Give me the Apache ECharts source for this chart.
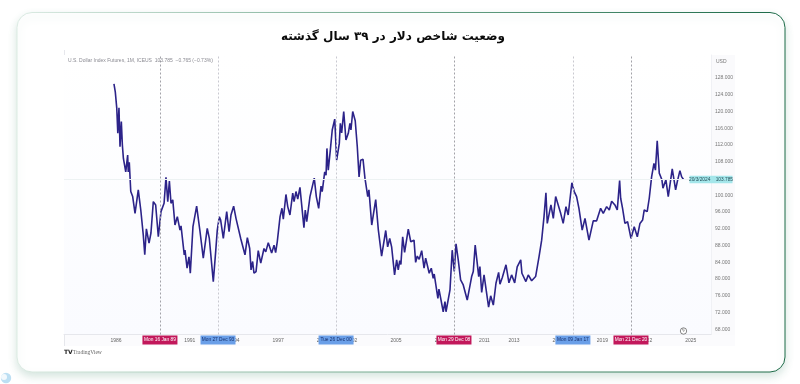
<!DOCTYPE html>
<html>
<head>
<meta charset="utf-8">
<title>DXY</title>
<style>
  html, body { margin: 0; padding: 0; background: #fff; }
  #main { width: 800px; height: 384px; }
</style>
<script src="https://cdn.jsdelivr.net/npm/echarts@6/dist/echarts.min.js"></script>
</head>
<body>
<div id="main"></div>
<script>
const titleText = 'وضعیت شاخص دلار در ۳۹ سال گذشته';
const legendText = 'U.S. Dollar Index Futures, 1M, ICEUS  103.785  −0.765 (−0.73%)';

// decimal year of each traced point
const years = [
  1985.86, 1985.95, 1986.05, 1986.12, 1986.20, 1986.27, 1986.36, 1986.43, 1986.50, 1986.66, 1986.79, 1986.83, 1986.90,
  1987.00, 1987.13, 1987.29, 1987.51, 1987.68, 1987.74, 1987.85, 1987.95, 1988.06, 1988.24, 1988.37, 1988.53, 1988.69, 1988.87,
  1989.05, 1989.26, 1989.39, 1989.51, 1989.62, 1989.73, 1989.85, 1990.00, 1990.16, 1990.34, 1990.41, 1990.63, 1990.68, 1990.82, 1990.95,
  1991.04, 1991.22, 1991.29, 1991.47, 1991.70, 1991.92, 1992.19, 1992.33, 1992.60, 1992.76, 1992.87, 1993.01, 1993.10, 1993.28, 1993.51, 1993.67, 1993.80, 1993.98,
  1994.14, 1994.26, 1994.46, 1994.75, 1994.91, 1995.07, 1995.16, 1995.27, 1995.36, 1995.50, 1995.65, 1995.82, 1996.04, 1996.16, 1996.33, 1996.56, 1996.72, 1996.83, 1996.94,
  1997.13, 1997.26, 1997.35, 1997.53, 1997.65, 1997.80, 1997.99, 1998.08, 1998.21, 1998.33, 1998.48, 1998.57, 1998.75, 1998.84, 1998.94,
  1999.16, 1999.45, 1999.59, 1999.75, 1999.91, 1999.99, 2000.16, 2000.25, 2000.31, 2000.40, 2000.54, 2000.67, 2000.84, 2000.97,
  2001.15, 2001.22, 2001.31, 2001.45, 2001.60, 2001.76, 2001.87, 2001.94, 2002.06, 2002.23, 2002.37, 2002.49, 2002.60, 2002.76, 2002.89,
  2003.08, 2003.16, 2003.35, 2003.62, 2003.80, 2004.02, 2004.30, 2004.43, 2004.57, 2004.70, 2004.90, 2005.04, 2005.15, 2005.25, 2005.33, 2005.45, 2005.58, 2005.83,
  2006.00, 2006.22, 2006.33, 2006.44, 2006.57, 2006.74, 2006.90, 2007.01, 2007.25, 2007.39, 2007.52, 2007.59, 2007.84, 2007.91,
  2008.03, 2008.20, 2008.32, 2008.39, 2008.50, 2008.66, 2008.81, 2008.95, 2009.07, 2009.22, 2009.38, 2009.56, 2009.83,
  2010.13, 2010.24, 2010.37, 2010.61, 2010.69, 2010.81, 2010.97, 2011.28, 2011.42, 2011.60, 2011.78, 2011.96,
  2012.05, 2012.21, 2012.46, 2012.66, 2012.84, 2013.05, 2013.22, 2013.46, 2013.54, 2013.81, 2013.97,
  2014.20, 2014.47, 2014.70, 2014.88, 2015.04, 2015.17, 2015.26, 2015.39, 2015.51, 2015.67, 2015.83, 2015.96,
  2016.17, 2016.34, 2016.53, 2016.68, 2016.93, 2017.09, 2017.25, 2017.41, 2017.63, 2017.82,
  2018.09, 2018.20, 2018.38, 2018.61, 2018.88, 2019.06, 2019.29, 2019.47, 2019.63, 2019.85,
  2020.01, 2020.17, 2020.24, 2020.37, 2020.53, 2020.71, 2020.94, 2021.16, 2021.37, 2021.55, 2021.73, 2021.84,
  2022.04, 2022.18, 2022.34, 2022.50, 2022.60, 2022.72, 2022.86, 2023.04, 2023.11, 2023.31, 2023.47, 2023.74, 2023.97,
  2024.08, 2024.26, 2024.38, 2024.51
];
const dollarIndex = [
  126.6, 124.7, 120.8, 114.8, 120.9, 111.6, 117.6, 112.0, 108.8, 105.6, 109.6, 105.6, 107.9,
  100.9, 99.7, 95.7, 101.3, 96.5, 96.9, 90.5, 85.8, 92.0, 88.6, 91.0, 98.5, 97.7, 90.1,
  96.1, 98.1, 104.3, 98.5, 103.4, 98.1, 98.9, 92.9, 94.9, 91.7, 92.7, 85.8, 86.9, 82.6, 85.3,
  81.4, 92.5, 92.1, 97.4, 91.3, 85.0, 92.1, 89.7, 79.4, 86.5, 91.7, 94.9, 94.1, 89.7, 96.1, 91.3, 95.3, 97.4,
  94.5, 94.9, 89.7, 85.8, 89.9, 87.3, 82.2, 84.2, 81.4, 81.8, 86.8, 83.8, 87.3, 86.5, 88.7, 86.2, 88.1, 86.3, 88.9,
  94.9, 96.9, 94.3, 100.2, 97.3, 95.3, 100.5, 98.5, 100.9, 99.1, 101.9, 102.1, 92.3, 96.5, 93.7,
  99.7, 104.1, 99.7, 96.9, 102.2, 100.9, 105.6, 104.8, 111.2, 106.0, 110.8, 115.6, 118.2, 108.4,
  112.4, 117.2, 114.9, 120.0, 113.2, 114.8, 117.2, 115.6, 120.0, 117.8, 111.6, 104.4, 108.4, 108.6, 104.1,
  99.7, 101.3, 92.9, 99.0, 91.7, 85.5, 91.6, 87.7, 89.7, 87.7, 81.0, 84.6, 82.2, 84.4, 83.5, 90.1, 86.4, 91.9,
  88.9, 89.3, 84.0, 85.5, 84.7, 86.8, 82.6, 85.0, 81.4, 82.6, 80.2, 81.2, 75.4, 77.6,
  75.4, 72.2, 74.6, 72.2, 72.5, 77.4, 86.9, 81.8, 88.4, 84.6, 79.8, 78.6, 75.0,
  80.6, 81.8, 88.1, 80.6, 83.0, 76.8, 81.0, 73.3, 76.0, 73.8, 79.0, 81.6,
  78.8, 80.4, 83.4, 79.1, 81.0, 79.1, 82.9, 84.6, 81.4, 79.4, 81.0,
  79.6, 80.6, 85.3, 89.3, 94.9, 100.6, 93.3, 93.3, 97.7, 94.5, 99.7, 99.4,
  95.7, 93.3, 97.3, 95.3, 103.0, 100.9, 99.7, 96.9, 91.7, 94.5,
  89.3, 89.7, 93.9, 93.9, 96.9, 95.7, 97.3, 96.5, 98.6, 97.7,
  96.5, 103.5, 99.3, 96.9, 93.3, 93.7, 89.7, 92.5, 90.1, 93.3, 94.1, 96.5,
  96.1, 99.3, 104.4, 107.6, 106.0, 113.0, 105.3, 103.7, 101.7, 103.7, 99.7, 106.3, 101.3,
  103.2, 105.9, 104.4, 103.8
];

const xTickYears = [1986, 1991, 1994, 1997, 2000, 2002, 2005, 2008, 2011, 2013, 2016, 2019, 2022, 2025];
const yTicks = [68, 72, 76, 80, 84, 88, 92, 96, 100, 108, 112, 116, 120, 124, 128];

// dashed marker lines and the date tags under them
const markerYears = [1988.98, 1992.92, 2000.93, 2008.93, 2017.0, 2020.94];
const markerLabels = ['Mon 16 Jan 89', 'Mon 27 Dec 93', 'Tue 26 Dec 00', 'Mon 29 Dec 08', 'Mon 09 Jan 17', 'Mon 21 Dec 20'];
const markerKinds = ['pink', 'blue', 'blue', 'pink', 'blue', 'pink'];

const lastPrice = 103.785;
const lastDate = '20/3/2024';

const xMin = 1982.47, xMax = 2026.37;
const yMin = 66.77, yMax = 133.5;
const smallFont = 'Liberation Sans';

const chart = echarts.init(document.getElementById('main'));

const markerData = markerYears.map((yr, i) => {
  const pink = markerKinds[i] === 'pink';
  return {
    xAxis: yr,
    lineStyle: { color: pink ? '#a2a2a8' : '#c9c9d0', type: [2, 2], width: 1 },
    label: {
      show: true,
      position: 'start',
      distance: 1,
      formatter: markerLabels[i],
      color: pink ? '#fff' : '#16306e',
      backgroundColor: pink ? '#c2185b' : '#6a9fe8',
      fontFamily: smallFont,
      fontSize: 4.8,
      padding: [2, 3, 2, 3],
      width: 29,
      height: 5,
      lineHeight: 5,
      align: 'center',
    },
  };
});

const option = {
  animation: false,
  backgroundColor: '#fff',
  title: {
    text: titleText,
    left: 388,
    top: 26,
    textAlign: 'center',
    textStyle: { fontFamily: 'DejaVu Sans', fontSize: 12, fontWeight: 'bold', color: '#0b0b0b' },
  },
  grid: {
    left: 64,
    right: 89,
    top: 55,
    bottom: 49.5,
    show: true,
    borderWidth: 0,
    backgroundColor: {
      type: 'linear', x: 0, y: 0, x2: 0, y2: 1,
      colorStops: [{ offset: 0, color: '#ffffff' }, { offset: 1, color: '#fafbff' }],
    },
  },
  xAxis: {
    type: 'value',
    min: xMin,
    max: xMax,
    splitLine: { show: false },
    axisTick: { show: false },
    axisLine: { show: true, lineStyle: { color: '#e6e7ec', width: 1 } },
    axisLabel: {
      customValues: xTickYears,
      formatter: (v) => String(v),
      color: '#666',
      fontFamily: smallFont,
      fontSize: 5,
      margin: 3.5,
      hideOverlap: false,
    },
  },
  yAxis: {
    type: 'value',
    position: 'right',
    min: yMin,
    max: yMax,
    splitLine: { show: false },
    axisTick: { show: false },
    axisLine: { show: true, lineStyle: { color: '#f0f1f5', width: 1 } },
    axisLabel: {
      customValues: yTicks,
      formatter: (v) => v.toFixed(3),
      color: '#777',
      fontFamily: smallFont,
      fontSize: 5,
      margin: 4,
    },
  },
  series: [{
    type: 'line',
    data: years.map((yr, i) => [yr, dollarIndex[i]]),
    symbol: 'none',
    lineStyle: { color: '#2c2389', width: 1.6 },
    markLine: {
      silent: true,
      symbol: 'none',
      animation: false,
      data: markerData.concat([{
        yAxis: lastPrice,
        lineStyle: { color: '#edf2f3', type: 'solid', width: 1 },
        label: { show: false },
      }]),
    },
    markPoint: {
      silent: true,
      animation: false,
      symbol: 'rect',
      symbolSize: [43, 7.5],
      itemStyle: { color: '#a4e6ea' },
      data: [{
        coord: [xMax, lastPrice],
        label: {
          show: true,
          position: 'inside',
          formatter: lastDate + '    ' + lastPrice.toFixed(3),
          color: '#26505a',
          fontFamily: smallFont,
          fontSize: 4.8,
        },
      }],
    },
  }],
  graphic: [
    {
      type: 'rect', z: -20,
      shape: { x: 17, y: 12.5, width: 768, height: 359.5, r: 15 },
      style: {
        fill: '#fff',
        stroke: {
          type: 'linear', x: 0, y: 0, x2: 1, y2: 0,
          colorStops: [{ offset: 0, color: '#dcebe3' }, { offset: 0.5, color: '#6ea68a' }, { offset: 1, color: '#1c6a47' }],
        },
        lineWidth: 1,
        shadowBlur: 8,
        shadowOffsetY: 4,
        shadowColor: 'rgba(70,140,110,0.22)',
      },
    },
    // price scale and time scale strips
    { type: 'rect', z: -10, shape: { x: 711, y: 55, width: 24, height: 291 }, style: { fill: '#fafafc' } },
    { type: 'rect', z: -10, shape: { x: 64, y: 335, width: 671, height: 11 }, style: { fill: '#fbfbfd' } },
    { type: 'line', z: -5, shape: { x1: 64.5, y1: 50, x2: 64.5, y2: 346 }, style: { stroke: '#e6e7ec', lineWidth: 1 } },
    { type: 'text', z: 10, style: { x: 68, y: 58.5, text: legendText, fontFamily: smallFont, fontSize: 5, fill: '#8a8a92' } },
    { type: 'text', z: 10, style: { x: 716, y: 59, text: 'USD', fontFamily: smallFont, fontSize: 5, fill: '#777' } },
    { type: 'text', z: 10, style: { x: 64, y: 349.5, text: 'TV', fontFamily: 'DejaVu Sans', fontWeight: 'bold', fontSize: 6, fill: '#222' } },
    { type: 'text', z: 10, style: { x: 73, y: 349.5, text: 'TradingView', fontFamily: 'Liberation Serif', fontSize: 5.5, fill: '#666' } },
    { type: 'circle', z: 10, shape: { cx: 683.5, cy: 331, r: 3.2 }, style: { fill: '#fff', stroke: '#555', lineWidth: 0.7 } },
    { type: 'text', z: 11, style: { x: 681.8, y: 328, text: 'ϟ', fontFamily: 'DejaVu Sans', fontSize: 5, fill: '#555' } },
    // logo cut by the bottom left corner
    { type: 'circle', z: 10, shape: { cx: 6, cy: 378, r: 5.2 }, style: { fill: '#bcdff3' } },
    { type: 'circle', z: 11, shape: { cx: 4, cy: 377, r: 3 }, style: { fill: '#f2f9fd' } },
  ],
};

chart.setOption(option);
</script>
</body>
</html>
